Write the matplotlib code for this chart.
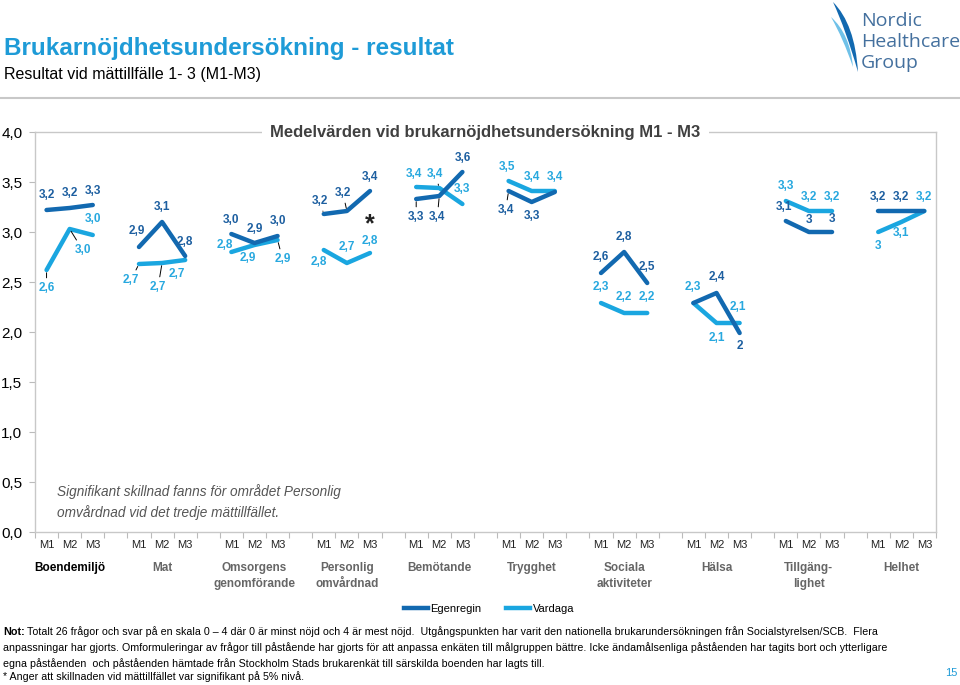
import matplotlib
matplotlib.use("Agg")
import matplotlib.pyplot as plt
from matplotlib.path import Path
import matplotlib.patches as mpatches

plt.rcParams['font.family'] = ['Liberation Sans', 'DejaVu Sans']

# %% data
categories = ["Boendemiljö", "Mat", "Omsorgens\ngenomförande", "Personlig\nomvårdnad",
              "Bemötande", "Trygghet", "Sociala\naktiviteter", "Hälsa",
              "Tillgäng-\nlighet", "Helhet"]
occasions = ["M1", "M2", "M3"]

egenregin = [[3.22, 3.24, 3.27], [2.85, 3.10, 2.76], [2.98, 2.89, 2.96],
             [3.18, 3.21, 3.41], [3.33, 3.36, 3.60], [3.41, 3.30, 3.40],
             [2.59, 2.80, 2.49], [2.29, 2.39, 1.99], [3.11, 3.00, 3.00],
             [3.21, 3.21, 3.21]]
vardaga = [[2.62, 3.03, 2.97], [2.68, 2.69, 2.72], [2.80, 2.87, 2.92],
           [2.82, 2.69, 2.79], [3.45, 3.44, 3.28], [3.51, 3.41, 3.41],
           [2.29, 2.19, 2.19], [2.29, 2.09, 2.09], [3.31, 3.21, 3.21],
           [3.00, 3.10, 3.21]]

egen_labels = [["3,2", "3,2", "3,3"], ["2,9", "3,1", "2,8"], ["3,0", "2,9", "3,0"],
               ["3,2", "3,2", "3,4"], ["3,3", "3,4", "3,6"], ["3,4", "3,3", None],
               ["2,6", "2,8", "2,5"], [None, "2,4", "2"], ["3,1", "3", "3"],
               ["3,2", "3,2", None]]
vard_labels = [["2,6", "3,0", "3,0"], ["2,7", "2,7", "2,7"], ["2,8", "2,9", "2,9"],
               ["2,8", "2,7", "2,8"], ["3,4", "3,4", "3,3"], ["3,5", "3,4", "3,4"],
               ["2,3", "2,2", "2,2"], ["2,3", "2,1", "2,1"], ["3,3", "3,2", "3,2"],
               ["3", "3,1", "3,2"]]

# label offsets in pixels (dx, dy up)
egen_off = [[(0, 15), (0, 15), (0, 14)], [(-2, 16), (0, 15), (0, 14)], [(0, 14), (0, 14), (0, 15)],
            [(-4, 13), (-4, 18), (0, 14)], [(0, -18), (-2, -21), (0, 14)], [(-3, -19), (0, -14), (0, 0)],
            [(0, 16), (0, 15), (0, 16)], [(0, 0), (0, 16), (0, -13)], [(-2, 14), (0, 12), (0, 13)],
            [(0, 14), (0, 14), (0, 0)]]
vard_off = [[(0, -18), (13, -21), (0, 16)], [(-8, -16), (-4, -24), (-8, -14)], [(-7, 7), (-7, -13), (5, -19)],
            [(-5, -12), (0, 16), (0, 12)], [(-2, 13), (-4, 14), (0, 15)], [(-2, 14), (0, 14), (0, 14)],
            [(0, 16), (0, 16), (0, 16)], [(-1, 16), (0, -15), (-2, 16)], [(0, 15), (0, 14), (0, 14)],
            [(0, -14), (0, -11), (0, 14)]]
egen_leader = {(3, 0), (3, 1), (4, 0), (4, 1), (5, 0)}
vard_leader = {(0, 0), (0, 1), (1, 0), (1, 1), (2, 2), (4, 1)}

dark = "#1269B0"
light = "#1AA6E0"
dark_txt = "#1D5FA0"
light_txt = "#27A8DF"

fig = plt.figure(figsize=(9.6, 6.85), dpi=100)

# header
fig.text(0.004, 1 - 49 / 685, "Brukarnöjdhetsundersökning - resultat", fontsize=17.5,
         fontweight="bold", color="#1E9BD7", va="center")
fig.text(0.004, 1 - 75 / 685, "Resultat vid mättillfälle 1- 3 (M1-M3)", fontsize=11.5,
         color="black", va="center")
fig.add_artist(plt.Line2D([0, 1], [1 - 98 / 685] * 2, color="#C8C8C8", lw=1.5))

# logo
for txt, yy in [("Nordic", 21), ("Healthcare", 42), ("Group", 63)]:
    fig.text(861 / 960, 1 - yy / 685, txt, fontsize=14, color="#44709E",
             family=["Open Sans", "DejaVu Sans"], va="center")
logo_ax = fig.add_axes([820 / 960, 1 - 75 / 685, 45 / 960, 75 / 685])
logo_ax.set_xlim(0, 45)
logo_ax.set_ylim(75, 0)
logo_ax.axis("off")
swoosh1 = Path([(13, 2), (35, 24), (38, 72), (26, 30), (13, 2), (13, 2)],
               [Path.MOVETO, Path.CURVE3, Path.CURVE3, Path.CURVE3, Path.CURVE3, Path.CLOSEPOLY])
logo_ax.add_patch(mpatches.PathPatch(swoosh1, color="#1269B0", lw=0))
swoosh2 = Path([(11, 17), (30, 34), (33, 67), (23, 38), (11, 17), (11, 17)],
               [Path.MOVETO, Path.CURVE3, Path.CURVE3, Path.CURVE3, Path.CURVE3, Path.CLOSEPOLY])
logo_ax.add_patch(mpatches.PathPatch(swoosh2, color="#6FC1E8", lw=0))

# chart
ax = fig.add_axes([35 / 960, 1 - 532 / 685, 901 / 960, 400 / 685])
ax.set_xlim(-0.5, 38.5)
ax.set_ylim(0, 4)
ax.set_yticks([0, 0.5, 1, 1.5, 2, 2.5, 3, 3.5, 4])
ax.set_yticklabels(["0,0", "0,5", "1,0", "1,5", "2,0", "2,5", "3,0", "3,5", "4,0"], fontsize=11)
ax.tick_params(axis="y", length=4, color="#BBBBBB", pad=5)
ax.set_xticks([i - 0.5 for i in range(40)])
ax.set_xticklabels([])
ax.tick_params(axis="x", length=4, color="#BBBBBB", direction="out")
for s in ax.spines.values():
    s.set_color("#C8C8C8")
    s.set_linewidth(1)

for g in range(len(categories)):
    xs = [4 * g + i for i in range(3)]
    ax.plot(xs, vardaga[g], color=light, lw=3.2, solid_capstyle="round", zorder=3)
    ax.plot(xs, egenregin[g], color=dark, lw=3.2, solid_capstyle="round", zorder=3)
    for series, labels, offs, col, leaders in [
            (egenregin, egen_labels, egen_off, dark_txt, egen_leader),
            (vardaga, vard_labels, vard_off, light_txt, vard_leader)]:
        for i in range(3):
            if labels[g][i] is None:
                continue
            dx, dy = offs[g][i]
            ap = None
            if (g, i) in leaders:
                ap = dict(arrowstyle="-", color="black", lw=0.7, shrinkA=1, shrinkB=2)
            ax.annotate(labels[g][i], (xs[i], series[g][i]), xytext=(dx, dy),
                        textcoords="offset pixels", ha="center", va="center",
                        fontsize=8.5, fontweight="bold", color=col, arrowprops=ap, zorder=4)
    for i in range(3):
        ax.text(xs[i], -0.08, occasions[i], ha="center", va="top", fontsize=8, color="#222222")
    ax.text(xs[1], -0.3, categories[g], ha="center", va="top", fontsize=8.5, fontweight="bold",
            color="black" if g == 0 else "#666666", linespacing=1.4)

# significance marker
ax.annotate("*", (4 * 3 + 2, egenregin[3][2]), xytext=(0, -40), textcoords="offset pixels",
            ha="center", va="baseline", fontsize=18, fontweight="bold", color="#222222")

ax.text(0.45, 0.30, "Signifikant skillnad fanns för området Personlig\nomvårdnad vid det tredje mättillfället.",
        fontsize=9.8, style="italic", color="#555555", va="center", linespacing=1.45)

ax.text(0.5, 1.0, "Medelvärden vid brukarnöjdhetsundersökning M1 - M3", transform=ax.transAxes,
        ha="center", va="center", fontsize=12, fontweight="bold", color="#404040",
        bbox=dict(facecolor="white", edgecolor="none", pad=6))

# legend
ax.plot([], [], color=dark, lw=3.2, label="Egenregin")
ax.plot([], [], color=light, lw=3.2, label="Vardaga")
ax.legend(loc="center", bbox_to_anchor=(489 / 960, 1 - 609 / 685), bbox_transform=fig.transFigure,
          ncol=2, frameon=False, fontsize=8, handlelength=2.2, handletextpad=0.2,
          columnspacing=2.2)

# footnote
foot = ["Totalt 26 frågor och svar på en skala 0 – 4 där 0 är minst nöjd och 4 är mest nöjd.  Utgångspunkten har varit den nationella brukarundersökningen från Socialstyrelsen/SCB.  Flera",
        "anpassningar har gjorts. Omformuleringar av frågor till påstående har gjorts för att anpassa enkäten till målgruppen bättre. Icke ändamålsenliga påståenden har tagits bort och ytterligare",
        "egna påståenden  och påståenden hämtade från Stockholm Stads brukarenkät till särskilda boenden har lagts till.",
        "* Anger att skillnaden vid mättillfället var signifikant på 5% nivå."]
foot_y = [632, 648, 664, 677]
fig.text(3 / 960, 1 - foot_y[0] / 685, "Not:", fontsize=7.8, fontweight="bold", va="center")
fig.text(27 / 960, 1 - foot_y[0] / 685, foot[0], fontsize=7.7, va="center")
for line, yy in zip(foot[1:], foot_y[1:]):
    fig.text(3 / 960, 1 - yy / 685, line, fontsize=7.7, va="center")
fig.text(951 / 960, 1 - 673 / 685, "15", fontsize=8, color="#1E9BD7", ha="center", va="center")

fig.savefig("out.png", dpi=100)
